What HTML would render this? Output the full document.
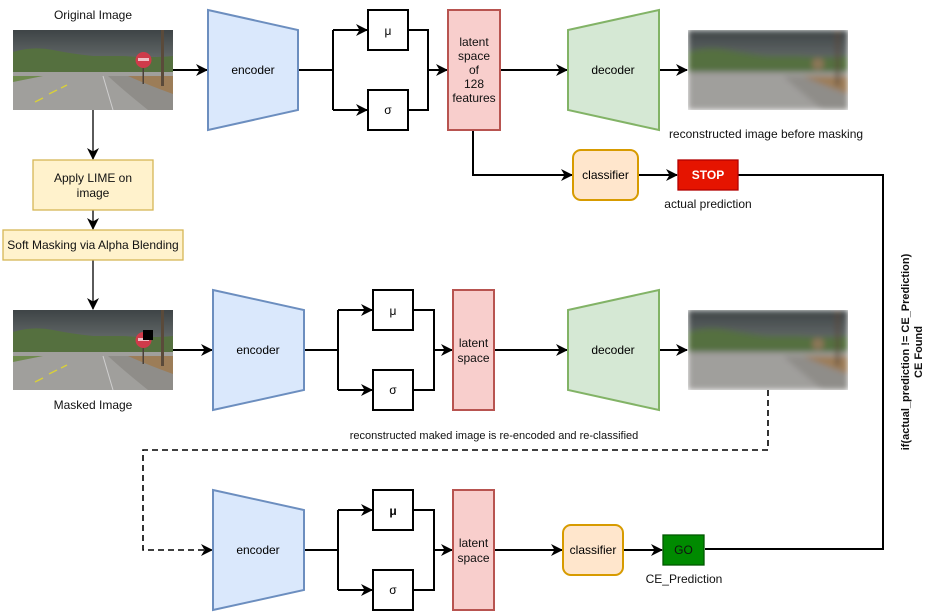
<!DOCTYPE html>
<html><head><meta charset="utf-8"><style>
html,body{margin:0;padding:0;background:#fff;}
svg{display:block;font-family:"Liberation Sans",Arial,sans-serif;}
</style></head><body>
<svg width="933" height="612" viewBox="0 0 933 612" xmlns="http://www.w3.org/2000/svg">
<defs>
<marker id="ar" markerWidth="12" markerHeight="12" refX="11" refY="6" orient="auto" markerUnits="userSpaceOnUse">
<path d="M0,0 L12,6 L0,12 L3.5,6 z" fill="#000"/>
</marker>
<linearGradient id="sky" x1="0" y1="0" x2="0" y2="1">
<stop offset="0" stop-color="#3e4446"/><stop offset="0.6" stop-color="#5f6565"/><stop offset="1" stop-color="#858883"/>
</linearGradient>
<filter id="bl" x="-5%" y="-5%" width="110%" height="110%"><feGaussianBlur stdDeviation="3"/></filter>
<g id="base">
<rect x="0" y="0" width="160" height="80" fill="#9c9c9a"/>
<rect x="0" y="0" width="160" height="44" fill="url(#sky)"/>
<path d="M0,44 L0,22 Q20,16 40,20 Q60,24 80,26 L110,26 Q140,28 160,26 L160,44 z" fill="#55703f"/>
<rect x="0" y="42" width="160" height="38" fill="#a09f9c"/>
<path d="M95,46 L160,46 L160,80 L135,80 Q110,60 95,46 z" fill="#8f8d89"/>
<path d="M115,46 L160,46 L160,64 Q135,55 115,46 z" fill="#9c7d58"/>
<rect x="148" y="0" width="3" height="56" fill="#5a4a3a"/>
</g>
<g id="scene">
<use href="#base"/>
<path d="M0,46 L30,46 L0,52 z" fill="#6f8a4e"/>
<path d="M22,72 L30,68 M36,64 L44,60 M48,58 L54,55" stroke="#d8cf3a" stroke-width="1.5"/>
<path d="M90,46 L100,80" stroke="#cfcfcf" stroke-width="1"/>
<rect x="129.5" y="36" width="1.5" height="18" fill="#4a4038"/>
<circle cx="130.5" cy="30" r="8" fill="#cf3b4a"/>
<rect x="125" y="28" width="11" height="3" fill="#f0c0c5"/>
</g>
</defs>

<text x="93" y="19" font-size="12" text-anchor="middle" fill="#111">Original Image</text>
<use href="#scene" x="13" y="30"/>
<svg x="688" y="30" width="160" height="80"><g filter="url(#bl)"><use href="#base"/><circle cx="130" cy="34" r="6" fill="#b07a6a" opacity="0.6"/></g></svg>
<text x="766" y="138" font-size="12" text-anchor="middle" fill="#111">reconstructed image before masking</text>
<use href="#scene" x="13" y="310"/>
<rect x="143" y="330" width="10" height="10" fill="#000"/>
<text x="93" y="409" font-size="12" text-anchor="middle" fill="#111">Masked Image</text>
<svg x="688" y="310" width="160" height="80"><g filter="url(#bl)"><use href="#base"/><circle cx="130" cy="34" r="6" fill="#b07a6a" opacity="0.6"/></g></svg>

<g stroke="#000" stroke-width="2" fill="none">
<line x1="173" y1="70" x2="207" y2="70" marker-end="url(#ar)"/>
<path d="M298,70 H333 M333,30 V110"/>
<line x1="333" y1="30" x2="367" y2="30" marker-end="url(#ar)"/>
<line x1="333" y1="110" x2="367" y2="110" marker-end="url(#ar)"/>
<path d="M408,30 H428 V110 H408"/>
<line x1="428" y1="70" x2="447" y2="70" marker-end="url(#ar)"/>
<line x1="500" y1="70" x2="567" y2="70" marker-end="url(#ar)"/>
<line x1="659" y1="70" x2="687" y2="70" marker-end="url(#ar)"/>
<path d="M473,130 V175 H572" marker-end="url(#ar)"/>
<line x1="638" y1="175" x2="677" y2="175" marker-end="url(#ar)"/>
<path d="M738,175 H883 V549 H705"/>
<line x1="93" y1="110" x2="93" y2="159" marker-end="url(#ar)" stroke-width="1.3"/>
<line x1="93" y1="210" x2="93" y2="229" marker-end="url(#ar)" stroke-width="1.3"/>
<line x1="93" y1="260" x2="93" y2="309" marker-end="url(#ar)" stroke-width="1.3"/>
<line x1="173" y1="350" x2="212" y2="350" marker-end="url(#ar)"/>
<path d="M304,350 H338 M338,310 V390"/>
<line x1="338" y1="310" x2="372" y2="310" marker-end="url(#ar)"/>
<line x1="338" y1="390" x2="372" y2="390" marker-end="url(#ar)"/>
<path d="M413,310 H434 V390 H413"/>
<line x1="434" y1="350" x2="452" y2="350" marker-end="url(#ar)"/>
<line x1="494" y1="350" x2="567" y2="350" marker-end="url(#ar)"/>
<line x1="659" y1="350" x2="687" y2="350" marker-end="url(#ar)"/>
<path d="M768,390 V450 H143 V550 H212" stroke-dasharray="6,4" stroke-width="1.6" marker-end="url(#ar)"/>
<path d="M304,550 H338 M338,510 V590"/>
<line x1="338" y1="510" x2="372" y2="510" marker-end="url(#ar)"/>
<line x1="338" y1="590" x2="372" y2="590" marker-end="url(#ar)"/>
<path d="M413,510 H434 V590 H413"/>
<line x1="434" y1="550" x2="452" y2="550" marker-end="url(#ar)"/>
<line x1="494" y1="550" x2="562" y2="550" marker-end="url(#ar)"/>
<line x1="623" y1="550" x2="662" y2="550" marker-end="url(#ar)"/>
</g>

<polygon points="208,10 298,30 298,110 208,130" fill="#dae8fc" stroke="#6c8ebf" stroke-width="2"/>
<text x="253" y="74" font-size="12" text-anchor="middle">encoder</text>
<polygon points="213,290 304,310 304,390 213,410" fill="#dae8fc" stroke="#6c8ebf" stroke-width="2"/>
<text x="258" y="354" font-size="12" text-anchor="middle">encoder</text>
<polygon points="213,490 304,510 304,590 213,610" fill="#dae8fc" stroke="#6c8ebf" stroke-width="2"/>
<text x="258" y="554" font-size="12" text-anchor="middle">encoder</text>

<g fill="#fff" stroke="#000" stroke-width="2">
<rect x="368" y="10" width="40" height="40"/><rect x="368" y="90" width="40" height="40"/>
<rect x="373" y="290" width="40" height="40"/><rect x="373" y="370" width="40" height="40"/>
<rect x="373" y="490" width="40" height="40"/><rect x="373" y="570" width="40" height="40"/>
</g>
<g font-size="12" text-anchor="middle">
<text x="388" y="35">μ</text><text x="388" y="114">σ</text>
<text x="393" y="315">μ</text><text x="393" y="394">σ</text>
<text x="393" y="515" font-weight="bold">μ</text><text x="393" y="594">σ</text>
</g>

<g fill="#f8cecc" stroke="#b85450" stroke-width="2">
<rect x="448" y="10" width="52" height="120"/>
<rect x="453" y="290" width="41" height="120"/>
<rect x="453" y="490" width="41" height="120"/>
</g>
<g font-size="12" text-anchor="middle" fill="#111">
<text x="474" y="46">latent</text><text x="474" y="60">space</text><text x="474" y="74">of</text><text x="474" y="88">128</text><text x="474" y="102">features</text>
<text x="473.5" y="347">latent</text><text x="473.5" y="362">space</text>
<text x="473.5" y="547">latent</text><text x="473.5" y="562">space</text>
</g>

<polygon points="568,30 659,10 659,130 568,110" fill="#d5e8d4" stroke="#82b366" stroke-width="2"/>
<text x="613" y="74" font-size="12" text-anchor="middle">decoder</text>
<polygon points="568,310 659,290 659,410 568,390" fill="#d5e8d4" stroke="#82b366" stroke-width="2"/>
<text x="613" y="354" font-size="12" text-anchor="middle">decoder</text>

<rect x="573" y="150" width="65" height="50" rx="8" fill="#ffe6cc" stroke="#d79b00" stroke-width="2"/>
<text x="605.5" y="179" font-size="12" text-anchor="middle">classifier</text>
<rect x="563" y="525" width="60" height="50" rx="8" fill="#ffe6cc" stroke="#d79b00" stroke-width="2"/>
<text x="593" y="554" font-size="12" text-anchor="middle">classifier</text>

<rect x="678" y="160" width="60" height="30" fill="#e51400" stroke="#b20000" stroke-width="1.3"/>
<text x="708" y="179" font-size="12" font-weight="bold" fill="#fff" text-anchor="middle">STOP</text>
<text x="708" y="208" font-size="12" text-anchor="middle" fill="#111">actual prediction</text>
<rect x="663" y="535" width="41" height="30" fill="#008a00" stroke="#005700" stroke-width="1.3"/>
<text x="683.5" y="554" font-size="12" fill="#111" text-anchor="middle">GO</text>
<text x="684" y="583" font-size="12" text-anchor="middle" fill="#111">CE_Prediction</text>

<rect x="33" y="160" width="120" height="50" fill="#fff2cc" stroke="#d6b656" stroke-width="1.3"/>
<text x="93" y="182" font-size="12" text-anchor="middle" fill="#111">Apply LIME on</text>
<text x="93" y="197" font-size="12" text-anchor="middle" fill="#111">image</text>
<rect x="3" y="230" width="180" height="30" fill="#fff2cc" stroke="#d6b656" stroke-width="1.3"/>
<text x="93" y="249" font-size="12" text-anchor="middle" fill="#111">Soft Masking via Alpha Blending</text>

<text x="494" y="439" font-size="11" text-anchor="middle" fill="#111">reconstructed maked image is re-encoded and re-classified</text>

<g font-size="11" font-weight="bold" text-anchor="middle" fill="#111">
<text transform="translate(909,352) rotate(-90)">if(actual_prediction != CE_Prediction)</text>
<text transform="translate(922,352) rotate(-90)">CE Found</text>
</g>
</svg>
</body></html>
